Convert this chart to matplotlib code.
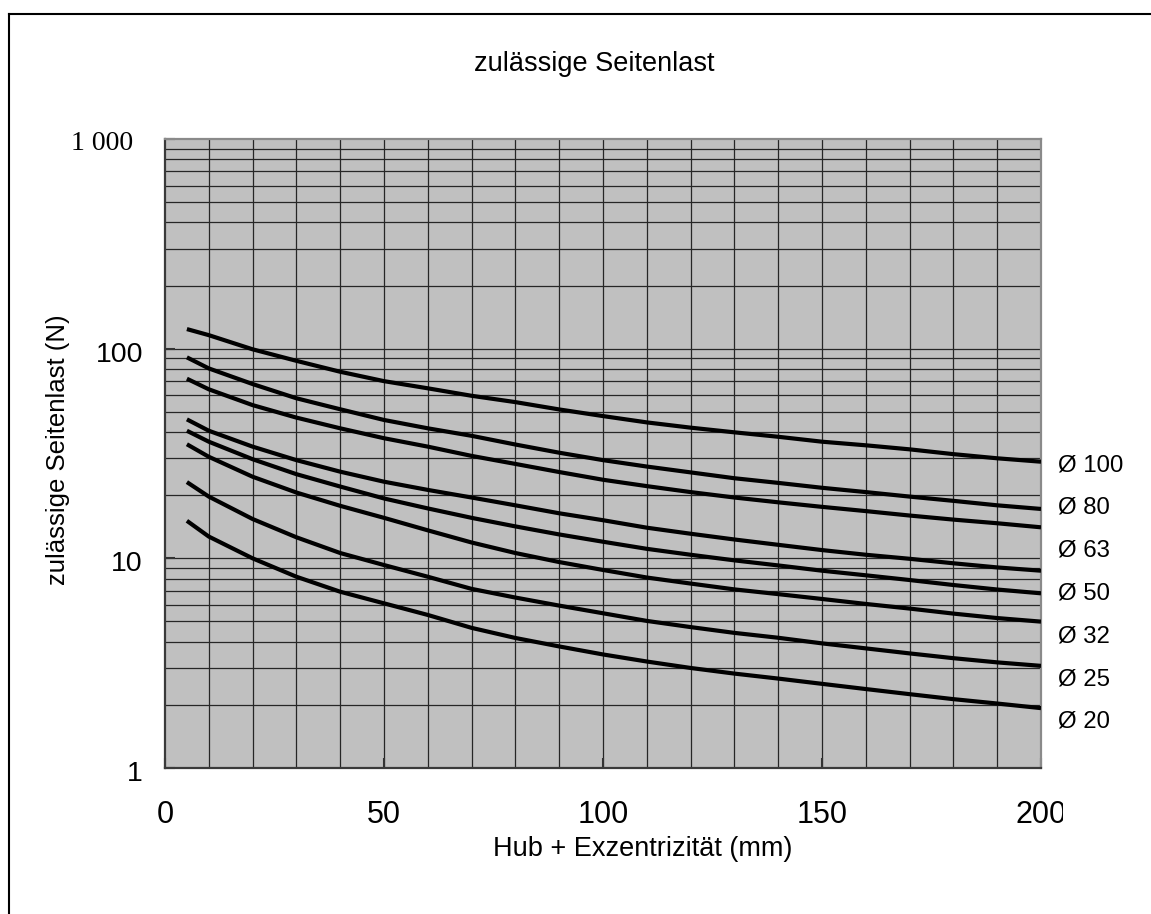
import matplotlib
matplotlib.use("Agg")
import matplotlib.pyplot as plt
import matplotlib.transforms as mtransforms
from matplotlib.lines import Line2D
from matplotlib.patches import Rectangle
from matplotlib.ticker import FixedLocator, NullFormatter, LogLocator

# ---------------- data ----------------
x_mm = [5, 10, 20, 30, 40, 50, 60, 70, 80, 90, 100, 110, 120, 130, 140, 150, 160, 170, 180, 190, 200]

curve_1 = [124, 116, 99.3, 87.5, 77.6, 70, 64.7, 59.6, 55.6, 51.3, 47.7, 44.5, 42, 39.9, 38, 36, 34.6, 33.1, 31.4, 30, 28.9]
curve_2 = [90.9, 80.5, 67.8, 58, 51.4, 45.7, 41.7, 38.4, 34.9, 31.9, 29.4, 27.4, 25.7, 24.1, 22.9, 21.7, 20.7, 19.7, 18.8, 17.9, 17.2]
curve_3 = [71.9, 64, 53.8, 46.9, 41.7, 37.4, 34.1, 30.8, 28.2, 25.8, 23.7, 22.1, 20.7, 19.5, 18.5, 17.6, 16.8, 16.0, 15.3, 14.7, 14.06]
curve_4 = [46, 40.6, 34.1, 29.4, 25.9, 23.2, 21.2, 19.5, 17.9, 16.4, 15.2, 14.0, 13.1, 12.3, 11.6, 10.95, 10.4, 9.95, 9.47, 9.05, 8.73]
curve_5 = [40.6, 36, 29.7, 25.2, 22.0, 19.3, 17.3, 15.6, 14.2, 13.0, 12.0, 11.1, 10.4, 9.78, 9.25, 8.73, 8.3, 7.88, 7.46, 7.1, 6.81]
curve_6 = [35, 30.5, 24.5, 20.6, 17.8, 15.6, 13.6, 11.9, 10.6, 9.6, 8.8, 8.1, 7.58, 7.11, 6.75, 6.4, 6.06, 5.76, 5.45, 5.19, 4.99]
curve_7 = [23.1, 19.7, 15.4, 12.6, 10.6, 9.29, 8.17, 7.15, 6.5, 5.95, 5.47, 5.03, 4.7, 4.41, 4.18, 3.93, 3.72, 3.52, 3.34, 3.19, 3.07]
curve_8 = [15.1, 12.7, 10.0, 8.17, 6.93, 6.1, 5.37, 4.66, 4.17, 3.8, 3.48, 3.22, 3.0, 2.82, 2.67, 2.52, 2.38, 2.25, 2.13, 2.03, 1.93]
curves = [curve_1, curve_2, curve_3, curve_4, curve_5, curve_6, curve_7, curve_8]

diameter_labels = ["Ø 100", "Ø 80", "Ø 63", "Ø 50", "Ø 32", "Ø 25", "Ø 20"]
x_ticks = [0, 50, 100, 150, 200]
x_tick_labels = ["0", "50", "100", "150", "200"]
y_ticks = [1, 10, 100, 1000]
y_tick_labels = ["1", "10", "100", "1 000"]

title = "zulässige Seitenlast"
x_label = "Hub + Exzentrizität (mm)"
y_label = "zulässige Seitenlast (N)"

# ---------------- figure ----------------
W, H, DPI = 1151, 914, 100
plt.rcParams['font.family'] = ['Liberation Sans', 'DejaVu Sans']
fig = plt.figure(figsize=(W / DPI, H / DPI), dpi=DPI, facecolor='white')

L, R, T, B = 165, 1041, 139, 768
ax = fig.add_axes([L / W, 1 - B / H, (R - L) / W, (B - T) / H])
ax.set_facecolor('#c0c0c0')
ax.set_yscale('log')
ax.set_xlim(0, 200)
ax.set_ylim(1, 1000)

# grid
for xv in range(10, 200, 10):
    ax.axvline(xv, color='#262626', lw=0.9, zorder=1)
for dec in [1, 10, 100]:
    for s in range(1, 10):
        v = dec * s
        if 1 < v < 1000:
            ax.axhline(v, color='#262626', lw=0.9, zorder=1)

for c in curves:
    ax.plot(x_mm, c, color='black', lw=3.0, solid_capstyle='butt',
            solid_joinstyle='round', zorder=3)

# spines
for s in ['left', 'bottom']:
    ax.spines[s].set_color('#3a3a3a')
    ax.spines[s].set_linewidth(1.6)
for s in ['top', 'right']:
    ax.spines[s].set_color('#8a8a8a')
    ax.spines[s].set_linewidth(1.6)

ax.xaxis.set_major_locator(FixedLocator(x_ticks))
ax.set_xticklabels(x_tick_labels, fontsize=22)
ax.tick_params(axis='x', direction='in', length=7, width=1.5, color='#333333', pad=23)
ax.yaxis.set_major_locator(FixedLocator(y_ticks))
ax.yaxis.set_minor_locator(LogLocator(base=10, subs=range(2, 10)))
ax.yaxis.set_major_formatter(NullFormatter())
ax.yaxis.set_minor_formatter(NullFormatter())
ax.tick_params(axis='y', which='major', direction='in', length=7, width=1.5, color='#333333')
ax.tick_params(axis='y', which='minor', length=0)

# y tick labels (manual, to allow the serif "1 000")
blend = mtransforms.blended_transform_factory(ax.transAxes, ax.transData)
ytr = mtransforms.offset_copy(blend, fig=fig, x=-22, y=-6, units='dots')
for v, lab in zip(y_ticks, y_tick_labels):
    if lab == "1 000":
        tr = mtransforms.offset_copy(blend, fig=fig, x=-32, y=-5, units='dots')
        ax.text(0, v, lab, transform=tr, ha='right', va='center', fontsize=20,
                family=['Liberation Serif', 'DejaVu Serif'])
    else:
        ax.text(0, v, lab, transform=ytr, ha='right', va='center', fontsize=20.5)

# clip "200" like the reference
fig.add_artist(Rectangle((1063 / W, 1 - 840 / H), 20 / W, 45 / H, transform=fig.transFigure,
                         facecolor='white', edgecolor='none', zorder=10))

# right-side labels
for i, lab in enumerate(diameter_labels):
    ypx = 465 + i * 42.8
    fig.text(1058 / W, 1 - ypx / H, lab, ha='left', va='center', fontsize=17.3)

fig.text(594 / W, 1 - 64 / H, title, ha='center', va='center', fontsize=19.5)
fig.text(643 / W, 1 - 849 / H, x_label, ha='center', va='center', fontsize=19.5)
fig.text(58 / W, 1 - 450 / H, y_label, ha='center', va='center', rotation=90, fontsize=18.5)

# outer frame (left + top visible)
fig.add_artist(Line2D([8.5 / W, 8.5 / W], [0, 1 - 13.5 / H], transform=fig.transFigure,
                      color='black', lw=1.5))
fig.add_artist(Line2D([8.5 / W, 1], [1 - 13.5 / H, 1 - 13.5 / H], transform=fig.transFigure,
                      color='black', lw=1.5))

fig.savefig('out.png', dpi=DPI, facecolor='white')
